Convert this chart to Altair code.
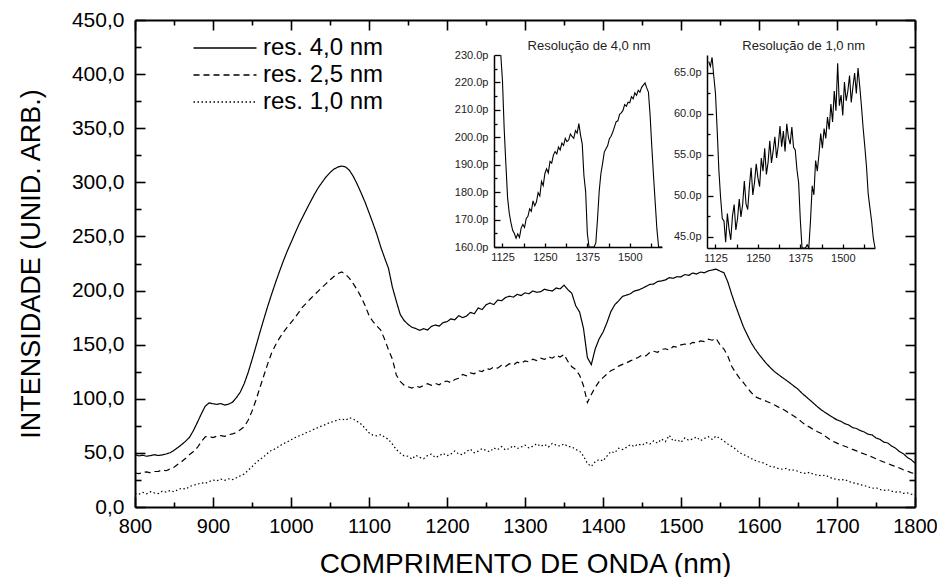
import altair as alt
import pandas as pd

# ---------------- data ----------------
WAVELENGTH = list(range(800, 1801, 5))

RES_40 = [
    48.5, 47.2, 47.8, 46.9, 47.5, 48.3, 47.6, 48.1, 49.0, 50.2, 52.4, 55.0, 57.8, 60.9, 64.5, 70.8, 78.2, 86.0, 93.1, 96.2,
    95.4, 94.8, 95.6, 94.2, 95.1, 96.8, 101.0, 106.2, 114.0, 124.1, 136.0, 148.3, 161.0, 173.2, 185.1, 196.3, 207.0, 217.2, 227.0, 236.1,
    244.3, 252.6, 260.8, 268.0, 275.2, 282.1, 288.9, 295.0, 300.2, 305.1, 309.0, 312.2, 314.1, 315.0, 314.2, 311.0, 305.3, 298.1, 290.0, 281.6,
    272.0, 262.3, 252.1, 240.4, 230.2, 220.5, 203.1, 190.2, 178.0, 172.3, 168.8, 166.1, 164.9, 163.2, 164.8, 163.5, 166.9, 168.2, 167.1, 170.4,
    171.2, 173.9, 173.0, 176.8, 175.0, 176.4, 179.8, 178.6, 183.9, 182.4, 186.8, 188.5, 187.0, 191.2, 190.6, 193.5, 194.8, 193.9, 196.5, 195.4,
    197.9, 197.0, 199.6, 198.4, 199.0, 201.2, 200.3, 199.6, 202.4, 201.5, 205.0, 200.8, 197.5, 186.0, 180.2, 165.0, 138.0, 131.5, 146.0, 155.3,
    161.5, 170.2, 180.4, 186.8, 190.5, 194.6, 195.8, 197.0, 199.5, 200.4, 201.9, 203.8, 205.7, 206.0, 208.4, 208.9, 209.8, 211.9, 211.3, 212.8,
    212.6, 214.8, 214.0, 216.2, 215.3, 217.1, 216.4, 218.2, 219.0, 219.8, 218.0, 216.5, 208.0, 196.5, 186.0, 176.2, 166.5, 159.0, 151.8, 146.0,
    141.0, 136.5, 132.2, 128.4, 125.0, 122.3, 119.6, 117.1, 114.4, 111.6, 108.9, 105.2, 102.1, 99.0, 95.8, 92.6, 89.7, 87.2, 84.9, 82.6,
    80.5, 79.2, 77.0, 75.8, 73.4, 72.5, 70.6, 69.3, 67.2, 66.6, 63.8, 62.5, 60.0, 59.2, 56.3, 54.4, 51.2, 49.3, 45.9, 43.8, 40.5,
]

RES_25 = [
    31.4, 30.8, 31.9, 32.5, 31.6, 32.8, 33.0, 34.2, 33.5, 35.1, 36.8, 39.5, 42.0, 45.1, 48.6, 51.2, 55.0, 60.3, 64.8, 65.2,
    64.1, 65.5, 66.0, 65.2, 66.8, 67.5, 68.9, 71.3, 74.2, 80.1, 88.5, 98.6, 110.0, 121.0, 132.0, 142.0, 149.5, 155.8, 161.2, 166.0,
    170.4, 175.0, 179.8, 184.9, 188.6, 192.4, 196.1, 199.5, 203.0, 206.4, 209.8, 213.0, 215.6, 217.2, 215.0, 211.3, 206.1, 200.5, 193.8, 186.2,
    177.0, 171.4, 167.2, 163.5, 155.0, 145.2, 136.6, 122.0, 116.0, 112.6, 111.1, 109.8, 111.8, 110.6, 112.3, 113.9, 112.5, 114.2, 113.0, 115.6,
    116.4, 114.9, 117.8, 119.0, 122.5, 121.2, 124.0, 123.1, 126.0, 125.2, 128.0, 127.1, 129.4, 128.3, 131.0, 129.8, 132.4, 131.2, 133.8, 132.6,
    135.0, 134.1, 136.5, 135.2, 137.6, 136.4, 138.8, 137.5, 140.2, 138.6, 141.0, 134.5, 129.6, 127.0, 121.8, 112.0, 96.5, 104.0, 110.5, 115.8,
    119.5, 122.8, 125.9, 127.5, 130.2, 131.8, 133.1, 135.0, 136.6, 138.2, 140.5, 139.6, 142.8, 143.9, 143.0, 145.6, 146.2, 145.0, 148.3, 147.6,
    149.8, 150.6, 149.9, 152.2, 151.5, 153.4, 152.8, 155.0, 154.1, 155.8, 150.0, 146.0, 139.5, 130.0, 124.2, 119.1, 115.0, 110.2, 105.8, 102.0,
    100.4, 99.1, 97.5, 96.0, 94.2, 92.3, 90.6, 88.4, 86.2, 83.9, 81.5, 78.4, 75.6, 73.8, 71.5, 69.6, 68.0, 65.3, 62.8, 60.6,
    59.0, 57.4, 56.1, 54.8, 53.2, 51.9, 50.3, 49.0, 47.6, 46.2, 44.5, 43.0, 41.6, 40.2, 38.7, 37.5, 36.0, 34.4, 33.1, 31.8, 30.6,
]

RES_10 = [
    12.6, 11.8, 13.5, 12.2, 14.1, 13.0, 12.4, 14.6, 13.8, 15.2, 14.0, 16.1, 17.3, 16.5, 18.9, 20.2, 21.0, 22.4, 21.8, 23.5,
    25.0, 24.2, 25.8, 24.6, 26.1, 25.3, 27.0, 28.8, 30.5, 33.9, 37.2, 41.0, 43.8, 46.5, 49.6, 52.4, 53.8, 56.2, 58.5, 60.1,
    62.0, 64.1, 65.6, 67.0, 68.8, 70.2, 72.0, 73.5, 75.1, 76.4, 78.2, 79.0, 80.6, 81.4, 80.2, 82.5, 81.3, 79.0, 76.5, 72.8,
    68.5, 66.4, 65.8, 66.9, 64.6, 62.5, 58.0, 53.1, 49.8, 47.2, 46.9, 44.3, 47.8, 45.9, 44.6, 47.5, 48.9, 45.8, 47.2, 49.6,
    47.4, 48.9, 51.8, 49.0, 48.3, 51.2, 53.4, 50.1, 51.6, 53.9, 52.2, 51.1, 54.6, 53.0, 55.8, 52.6, 54.1, 56.7, 54.0, 55.5,
    57.2, 54.6, 56.1, 58.5, 56.0, 57.9, 55.4, 58.8, 57.1, 56.3, 58.4, 55.9, 55.6, 53.2, 51.6, 47.0, 40.2, 37.5, 41.8, 44.0,
    42.5, 47.0, 51.2, 50.1, 54.3, 53.0, 55.1, 57.6, 55.8, 58.2, 57.0, 59.6, 58.1, 61.2, 59.0, 62.8, 60.4, 66.2, 61.0, 62.3,
    59.8, 63.9, 61.6, 62.8, 64.7, 61.4, 63.3, 65.0, 62.5, 65.6, 63.4, 61.0, 58.3, 56.0, 53.5, 50.2, 48.5, 46.9, 44.8, 43.1,
    41.8, 40.9, 39.2, 37.4, 36.8, 35.5, 34.9, 35.6, 33.8, 34.2, 32.9, 31.5, 31.0, 32.1, 30.2, 29.4, 28.8, 29.5, 27.6, 26.3,
    25.4, 24.8, 25.5, 23.6, 22.4, 21.9, 20.5, 19.8, 18.6, 17.3, 17.9, 16.2, 15.4, 16.0, 14.6, 13.8, 14.2, 12.6, 13.1, 11.9, 11.2,
]

SERIES = ["res. 4,0 nm", "res. 2,5 nm", "res. 1,0 nm"]
X_TICKS = [800, 900, 1000, 1100, 1200, 1300, 1400, 1500, 1600, 1700, 1800]
Y_TICKS = [0, 50, 100, 150, 200, 250, 300, 350, 400, 450]
INSET_X_TICKS = [1125, 1250, 1375, 1500]
INSET1_Y_TICKS = [160, 170, 180, 190, 200, 210, 220, 230]
INSET2_Y_TICKS = [45, 50, 55, 60, 65]
INSET_X_DOMAIN = [1100, 1595]
INSET1_Y_DOMAIN = [160, 230]
INSET2_Y_DOMAIN = [43.6, 67.2]
INSET_TITLES = ["Resolução de 4,0 nm", "Resolução de 1,0 nm"]
INSET_TITLE_X = [1380, 1385]

for arr in (RES_40, RES_25, RES_10):
    assert len(arr) == len(WAVELENGTH)

rows = []
for name, vals in zip(SERIES, [RES_40, RES_25, RES_10]):
    for w, v in zip(WAVELENGTH, vals):
        rows.append({"wavelength": w, "intensity": v, "series": name})
df = pd.DataFrame(rows)

# ---------------- styling ----------------
FONT = "Liberation Sans"
W, H = 780, 487
DASHES = [[1, 0], [6, 4], [1.5, 2.5]]
TICK_COLOR = "black"

I1_X_RANGE = [359, 527]
I1_Y_RANGE = [227, 35]
I2_X_RANGE = [572, 740]
I2_Y_RANGE = [228, 35]

MAIN_X_MAJOR = list(range(800, 1801, 100))
MAIN_X_MINOR = list(range(850, 1800, 100))
MAIN_Y_MAJOR = list(range(0, 451, 50))
MAIN_Y_MINOR = list(range(25, 450, 50))


def tick_axis(orient, offset, values, size, domain=False, width=1.6, inward=False):
    # inward=True: tick points into the plot from a bottom/left edge
    ts = alt.ExprRef(f"-{size}") if inward else size
    return alt.Axis(orient=orient, offset=offset, values=values, tickSize=ts,
                    tickWidth=width, tickColor=TICK_COLOR, labels=False, domain=domain,
                    domainWidth=2, domainColor="black", grid=False, title=None)


sx = alt.Scale(domain=[800, 1800], nice=False, zero=False)
sy = alt.Scale(domain=[0, 450], nice=False, zero=False)

main = alt.Chart(df).mark_line(color="black", strokeWidth=1.2).encode(
    x=alt.X("wavelength:Q", scale=sx, axis=alt.Axis(
        orient="bottom", values=X_TICKS, ticks=False, domainWidth=2, domainColor="black",
        format="d", labelFont=FONT, labelFontSize=20, labelColor="black", labelPadding=9,
        labelFlush=False, labelOverlap=False, grid=False,
        title="COMPRIMENTO DE ONDA (nm)", titleFont=FONT, titleFontSize=28,
        titleFontWeight="normal", titleColor="black", titlePadding=14)),
    y=alt.Y("intensity:Q", scale=sy, axis=alt.Axis(
        orient="left", values=Y_TICKS, ticks=False, domainWidth=2, domainColor="black",
        labelExpr="replace(format(datum.value, '.1f'), '.', ',')",
        labelFont=FONT, labelFontSize=21, labelColor="black", labelPadding=11,
        labelFlush=False, labelOverlap=False, grid=False,
        title="INTENSIDADE (UNID. ARB.)", titleFont=FONT, titleFontSize=27,
        titleFontWeight="normal", titleColor="black", titlePadding=26)),
    strokeDash=alt.StrokeDash("series:N", scale=alt.Scale(domain=SERIES, range=DASHES),
                              legend=alt.Legend(
                                  title=None, orient="none", legendX=78, legendY=16,
                                  symbolType="M-4.2,0H4.2", symbolSize=225, symbolStrokeWidth=1.3,
                                  symbolStrokeColor="black", labelFont=FONT, labelFontSize=24,
                                  labelColor="black", labelOffset=26, rowPadding=3)),
)


def axis_carrier(xaxis, yaxis, xs, ys):
    return alt.Chart(df).mark_line(opacity=0).encode(
        x=alt.X("wavelength:Q", scale=xs, axis=xaxis),
        y=alt.Y("intensity:Q", scale=ys, axis=yaxis),
    )


main_ticks = [
    # bottom and left edges: ticks pointing into the plot
    axis_carrier(tick_axis("bottom", 0, MAIN_X_MAJOR, 10, inward=True),
                 tick_axis("left", 0, MAIN_Y_MAJOR, 10, inward=True), sx, sy),
    axis_carrier(tick_axis("bottom", 0, MAIN_X_MINOR, 5, inward=True),
                 tick_axis("left", 0, MAIN_Y_MINOR, 6, inward=True), sx, sy),
    # top and right frame (bottom/left axes moved across), ticks pointing into the plot
    axis_carrier(tick_axis("bottom", -H, MAIN_X_MAJOR, 10, True),
                 tick_axis("left", -W, MAIN_Y_MAJOR, 10, True), sx, sy),
    axis_carrier(tick_axis("bottom", -H, MAIN_X_MINOR, 5),
                 tick_axis("left", -W, MAIN_Y_MINOR, 6), sx, sy),
]


def inset_layers(series, start, y_domain, x_range, y_range, y_major, y_minor, title, title_x):
    isx = alt.Scale(domain=INSET_X_DOMAIN, range=x_range, nice=False, zero=False)
    isy = alt.Scale(domain=y_domain, range=y_range, nice=False, zero=False, clamp=True)
    bottom_y = y_range[0]
    left_x = x_range[0]
    line = alt.Chart(df).transform_filter(
        (alt.datum.series == series) & (alt.datum.wavelength >= start)
        & (alt.datum.wavelength <= INSET_X_DOMAIN[1])
    ).mark_line(color="black", strokeWidth=1.1).encode(
        x=alt.X("wavelength:Q", scale=isx, axis=alt.Axis(
            orient="bottom", offset=bottom_y - H, values=INSET_X_TICKS, ticks=False, format="d",
            domainWidth=1.5, domainColor="black", labelFont=FONT, labelFontSize=11,
            labelColor="#222", labelPadding=4, labelFlush=False, labelOverlap=False,
            grid=False, title=None)),
        y=alt.Y("intensity:Q", scale=isy, axis=alt.Axis(
            orient="left", offset=-left_x, values=y_major, ticks=False,
            domainWidth=1.5, domainColor="black", labelFont=FONT, labelFontSize=11,
            labelColor="#222", labelPadding=6, labelFlush=False, labelOverlap=False,
            labelExpr="format(datum.value, '.1f') + 'p'", grid=False, title=None)),
    )
    ticks_a = axis_carrier(
        tick_axis("bottom", bottom_y - H, [1125, 1187.5, 1250, 1312.5, 1375, 1437.5, 1500, 1562.5], 4,
                  width=1.3, inward=True),
        tick_axis("left", -left_x, y_major, 6, width=1.3, inward=True), isx, isy)
    ticks_b = axis_carrier(None, tick_axis("left", -left_x, y_minor, 3, width=1.3, inward=True), isx, isy)
    tdf = pd.DataFrame({"x": [title_x], "y": [y_domain[1]], "t": [title]})
    text = alt.Chart(tdf).mark_text(font=FONT, fontSize=13, color="#222", dy=-9,
                                    baseline="middle").encode(
        x=alt.X("x:Q", scale=isx, axis=None),
        y=alt.Y("y:Q", scale=isy, axis=None),
        text="t:N",
    )
    return [line, ticks_a, ticks_b, text]


inset1 = inset_layers("res. 4,0 nm", 1120, INSET1_Y_DOMAIN, I1_X_RANGE, I1_Y_RANGE,
                      INSET1_Y_TICKS, [165, 175, 185, 195, 205, 215, 225],
                      INSET_TITLES[0], INSET_TITLE_X[0])
inset2 = inset_layers("res. 1,0 nm", 1105, INSET2_Y_DOMAIN, I2_X_RANGE, I2_Y_RANGE,
                      INSET2_Y_TICKS, [47.5, 52.5, 57.5, 62.5],
                      INSET_TITLES[1], INSET_TITLE_X[1])

chart = alt.layer(main, *main_ticks, *inset1, *inset2).resolve_scale(
    x="independent", y="independent"
).properties(
    width=W, height=H,
    autosize=alt.AutoSizeParams(type="none"),
    padding={"left": 127, "top": 12, "right": 22, "bottom": 70},
    background="white",
).configure_view(stroke=None)

chart.save("out.html", embed_options={"renderer": "svg", "actions": False})
